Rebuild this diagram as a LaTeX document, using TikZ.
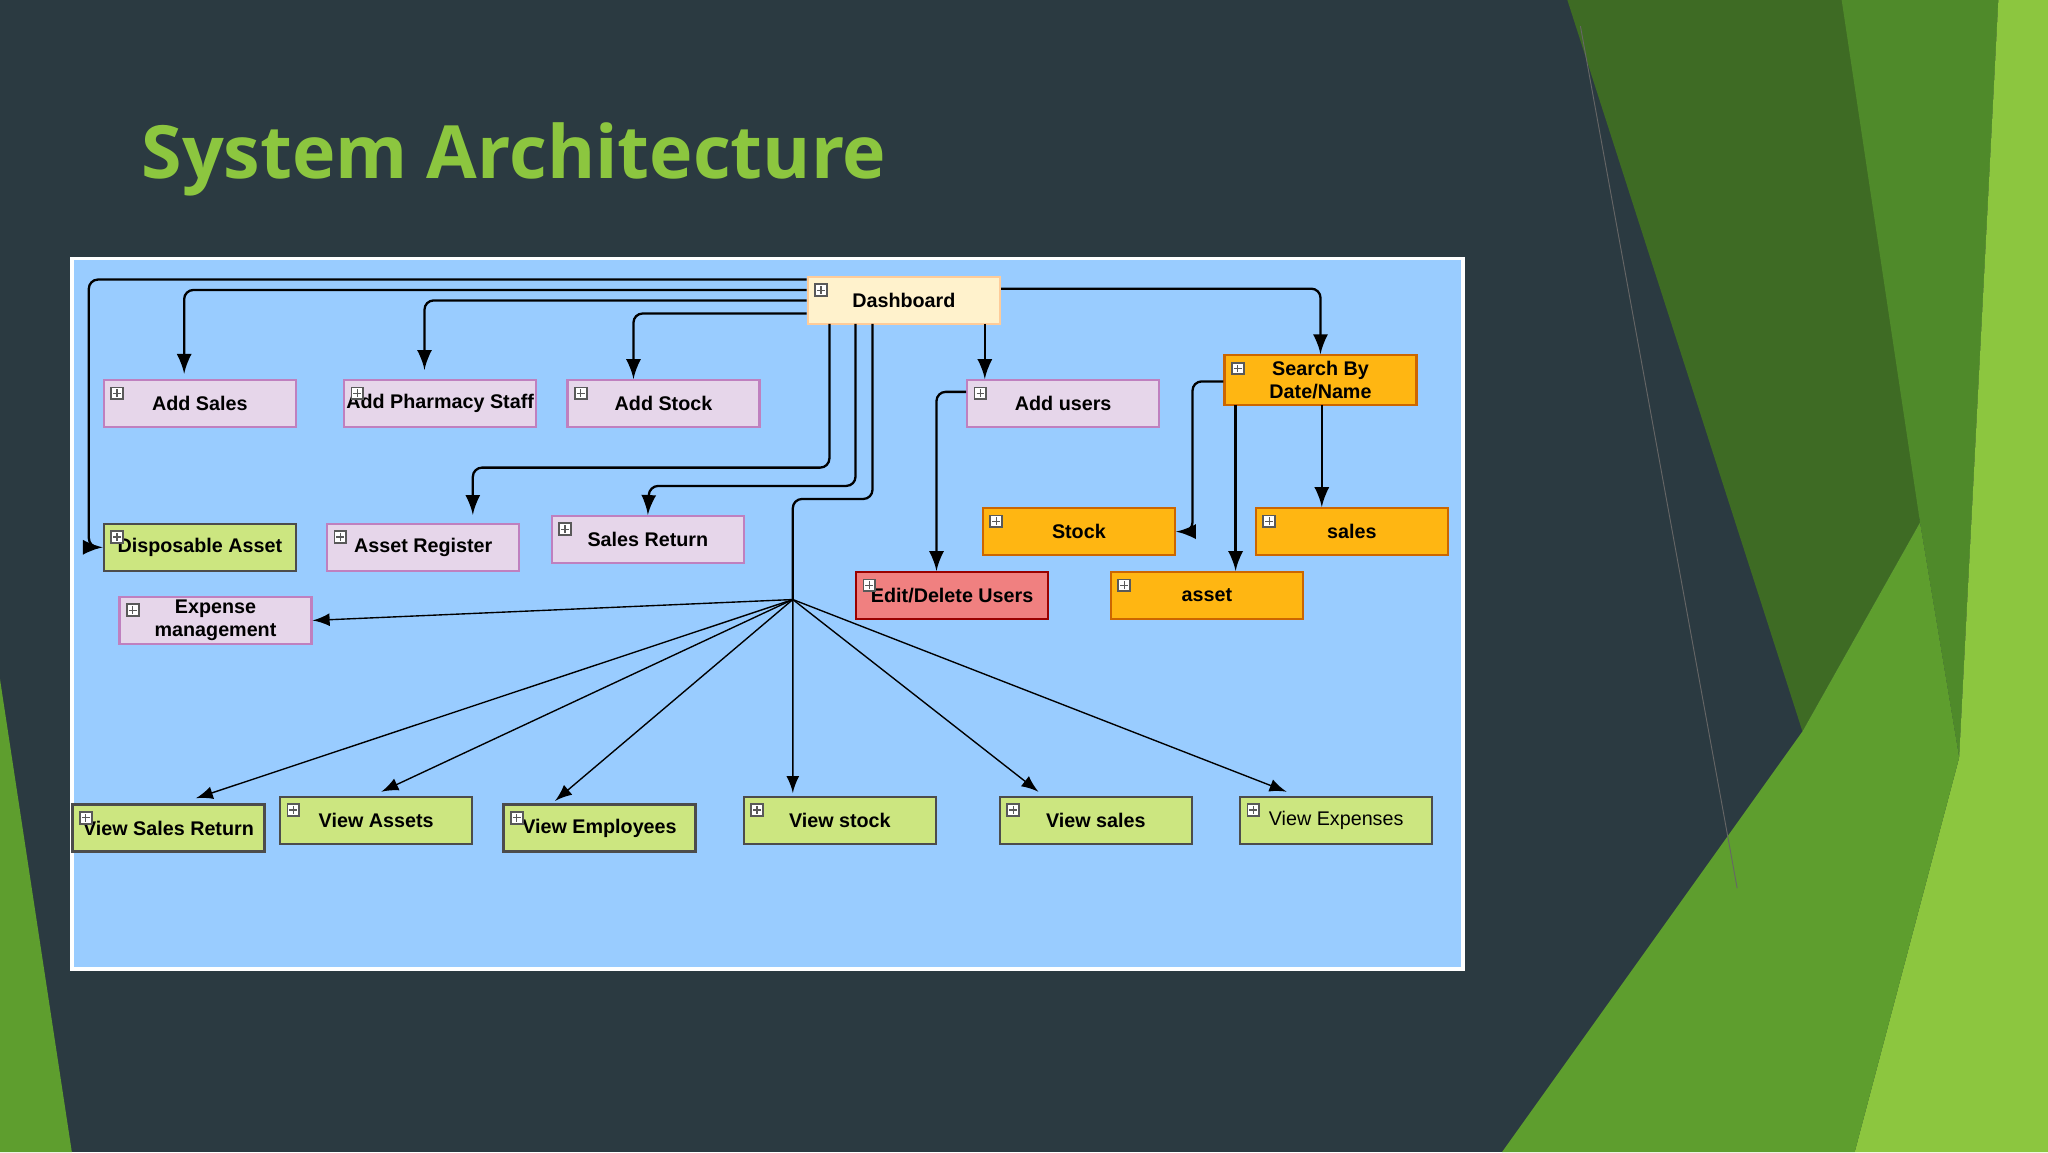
\documentclass[tikz,border=0pt]{standalone}
\usepackage{fontspec}
\setmainfont{Liberation Sans}
\newfontfamily\titlefont{Open Sans}
\usetikzlibrary{calc}
\definecolor{bgx}{HTML}{2B3A41}
\definecolor{pnx}{HTML}{99CCFF}
\definecolor{pkx}{HTML}{E6D6EA}
\definecolor{gnx}{HTML}{CCE680}
\definecolor{orx}{HTML}{FFB612}
\definecolor{ylx}{HTML}{FFF2CC}
\definecolor{rdx}{HTML}{F08080}
\definecolor{tgx}{HTML}{8CC63F}
\definecolor{dgx}{HTML}{3E6B24}
\definecolor{mgx}{HTML}{4F8A2A}
\definecolor{lgx}{HTML}{5E9E2E}
\tikzset{
    plus/.style={draw=gray!70!black,fill=white,inner sep=0pt,minimum size=0.09cm,
        path picture={\draw[line width=0.25pt] ([xshift=0.015cm]path picture bounding box.west) -- ([xshift=-0.015cm]path picture bounding box.east)
        ([yshift=0.015cm]path picture bounding box.south) -- ([yshift=-0.015cm]path picture bounding box.north);}},
    box/.style={draw,line width=0.5pt,minimum width=1.47cm,minimum height=0.36cm,inner sep=0pt,align=center,
        font=\fontsize{4.3}{5}\selectfont\bfseries,
        append after command={node[plus] at ([shift={(0.11,-0.11)}]\tikzlastnode.north west) {}}},
    pk/.style={box,fill=pkx,draw=violet!50},
    gn/.style={box,fill=gnx,draw=black!70},
    og/.style={box,fill=orx,draw=orange!80!black},
    link/.style={-latex,line width=0.5pt,rounded corners=2pt},
    ray/.style={-latex,line width=0.3pt}
}
\begin{document}
\begin{tikzpicture}
    \fill[bgx] (0,0) rectangle (15.68,-8.82);
    \useasboundingbox (0,0) rectangle (15.68,-8.82);
    % right side decoration
    \fill[dgx] (12,0) -- (14.2,0) -- (14.7,-4) -- (13.8,-5.6) -- cycle;
    \fill[mgx] (14.1,0) -- (15.3,0) -- (15,-5.8) -- (14.7,-4) -- cycle;
    \fill[tgx] (15.3,0) -- (15.68,0) -- (15.68,-8.82) -- (14.2,-8.82) -- (15,-5.8) -- cycle;
    \fill[lgx] (11.5,-8.82) -- (13.8,-5.6) -- (14.7,-4) -- (15,-5.8) -- (14.2,-8.82) -- cycle;
    \fill[lgx] (0,-5.2) -- (0.55,-8.82) -- (0,-8.82) -- cycle;
    \draw[black!60,line width=0.2pt] (12.1,-0.2) -- (13.3,-6.8);
    % title
    \node[anchor=west,text=tgx,font=\titlefont\bfseries\fontsize{16}{20}\selectfont] (title) at (0.96,-1.22) {System Architecture};
    % panel
    \draw[white,fill=pnx,line width=0.8pt] (0.55,-1.98) rectangle (11.2,-7.42);

    \node[box,fill=ylx,draw=orange!40] (dash) at (6.92,-2.30) {Dashboard};
    \node[pk] (addsales) at (1.53,-3.09) {Add Sales};
    \node[pk] (addstaff) at (3.37,-3.09) {Add Pharmacy Staff};
    \node[pk] (addstock) at (5.08,-3.09) {Add Stock};
    \node[pk] (addusers) at (8.14,-3.09) {Add users};
    \node[og,minimum height=0.38cm] (search) at (10.11,-2.91) {Search By\\Date/Name};
    \node[gn] (disp) at (1.53,-4.19) {Disposable Asset};
    \node[pk] (assetreg) at (3.24,-4.19) {Asset Register};
    \node[pk] (salesret) at (4.96,-4.13) {Sales Return};
    \node[og] (stock) at (8.26,-4.07) {Stock};
    \node[og] (sales) at (10.35,-4.07) {sales};
    \node[og] (asset) at (9.24,-4.56) {asset};
    \node[box,fill=rdx,draw=red!60!black] (edit) at (7.29,-4.56) {Edit/Delete Users};
    \node[pk] (expense) at (1.65,-4.75) {Expense\\management};
    \node[gn] (vsret) at (1.29,-6.34) {View Sales Return};
    \node[gn] (vassets) at (2.88,-6.28) {View Assets};
    \node[gn] (vemp) at (4.59,-6.34) {View Employees};
    \node[gn] (vstock) at (6.43,-6.28) {View stock};
    \node[gn] (vsales) at (8.39,-6.28) {View sales};
    \node[gn,font=\fontsize{4.3}{5}\selectfont] (vexp) at (10.23,-6.28) {View Expenses};
    \coordinate (hub) at (6.07,-4.59);

    \draw[link] (dash.west |- 0,-2.14) -| (0.68,-4.19) -- (disp.west);
    \draw[link] (dash.west |- 0,-2.22) -| ($(addsales.north)+(-0.12,0.04)$);
    \draw[link] (dash.west |- 0,-2.30) -| ($(addstaff.north)+(-0.12,0.07)$);
    \draw[link] (dash.west |- 0,-2.40) -| ($(addstock.north)+(-0.23,0)$);
    \draw[link] (6.35,-2.48) |- (3.62,-3.58) -- ($(assetreg.north)+(0.38,0.06)$);
    \draw[link] (6.55,-2.48) |- (4.97,-3.72) -- (salesret.north);
    \draw[link,-] (6.68,-2.48) |- (6.07,-3.82) -- (hub);
    \draw[link] (7.54,-2.48) -- ($(addusers.north)+(-0.6,0)$);
    \draw[link] (dash.east |- 0,-2.21) -| (search.north);
    \draw[link] (search.west |- 0,-2.92) -| (9.13,-4.07) -- (stock.east);
    \draw[link] (9.46,-3.10) -- (asset.north -| 9.46,0);
    \draw[link] (10.12,-3.10) -- (sales.north -| 10.12,0);
    \draw[link] (addusers.west |- 0,-3.00) -| ($(edit.north)+(-0.12,0)$);

    \draw[ray] (hub) -- (expense.east);
    \draw[ray] (hub) -- ($(vsret.north)+(0.21,0.04)$);
    \draw[ray] (hub) -- ($(vassets.north)+(0.04,0.03)$);
    \draw[ray] (hub) -- ($(vemp.north)+(-0.34,0.02)$);
    \draw[ray] (hub) -- ($(vstock.north)+(-0.36,0.02)$);
    \draw[ray] (hub) -- ($(vsales.north)+(-0.44,0.03)$);
    \draw[ray] (hub) -- ($(vexp.north)+(-0.38,0.03)$);
\end{tikzpicture}
\end{document}
